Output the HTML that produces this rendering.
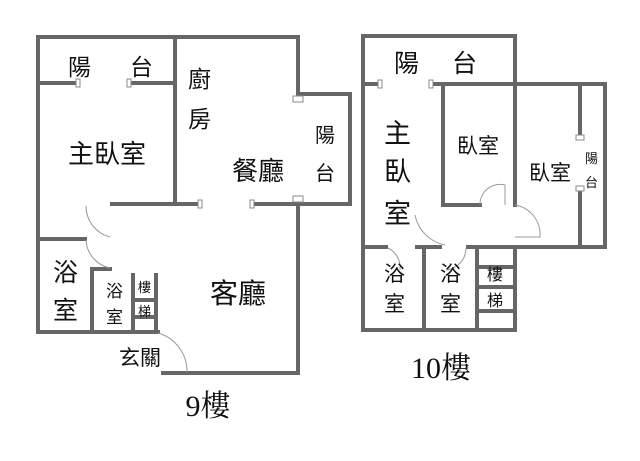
<!DOCTYPE html>
<html><head><meta charset="utf-8"><style>
html,body{margin:0;padding:0;background:#fff;width:640px;height:461px;overflow:hidden}
svg{display:block}
text{font-family:"Liberation Sans","Noto Sans CJK TC",sans-serif;fill:#111}
.s{font-family:"Liberation Serif","Noto Serif CJK SC",serif}
</style></head><body>
<svg width="640" height="461" viewBox="0 0 640 461">
<g stroke="#666" stroke-width="4" fill="none" stroke-linecap="square">
<path d="M38 37 H298 V94 H350 V204 H253"/>
<path d="M38 37 V332 H90"/>
<path d="M298 205 V373 H163"/>
<path d="M38 83 H78 M130 83 H175 M175 37 V203"/>
<path d="M112 204 H198"/>
<path d="M38 239 H85"/>
<path d="M92 332 V269 H110"/>
<path d="M90 332 H158"/>
<path d="M133 275 V332 M156 275 V332 M133 300 H156 M133 317 H156"/>
<path d="M363 36 H515 V84 M363 36 V330 H515 V247"/>
<path d="M363 84 H380 M431 84 H605 V247 H515"/>
<path d="M580 84 V135 M580 190 V247"/>
<path d="M443 84 V205 H480 M515 84 V205"/>
<path d="M363 247 H386 M417 247 H440 M468 247 H518"/>
<path d="M424 247 V330 M477 247 V330 M477 267 H515 M477 287 H515 M477 311 H515"/>
</g>
<g stroke="#888" stroke-width="1" fill="#fff">
<rect x="76" y="79" width="4" height="8"/><rect x="127" y="79" width="4" height="8"/>
<rect x="293" y="96" width="10" height="6"/><rect x="293" y="196" width="10" height="6"/>
<rect x="198" y="200" width="4" height="8"/><rect x="250" y="200" width="4" height="8"/>
<rect x="378" y="80" width="4" height="8"/><rect x="429" y="80" width="4" height="8"/>
<rect x="576" y="135" width="8" height="5"/><rect x="576" y="186" width="8" height="5"/>
</g>
<g stroke="#999" stroke-width="1" fill="none">
<path d="M86 206 A32 32 0 0 0 110 237"/>
<path d="M86 240 A30 30 0 0 0 110 268"/>
<path d="M158 333 A40 40 0 0 1 187 372"/>
<path d="M415 215 A38 38 0 0 0 445 245"/>
<path d="M480 205 A20 20 0 0 1 505 185 V205"/>
<path d="M515 205 A30 30 0 0 1 540 237 H515"/>
<path d="M388 248 A22 22 0 0 1 400 270"/>
<path d="M466 248 A22 22 0 0 1 446 270"/>
</g>
<g font-size="22">
<text x="68" y="75" font-size="23">陽</text><text x="130" y="75" font-size="23">台</text>
<text x="188" y="87" font-size="23">廚</text><text x="188" y="127" font-size="23">房</text>
<text x="315" y="142" font-size="20">陽</text><text x="315" y="180" font-size="20">台</text>
<text x="107" y="163" font-size="26" text-anchor="middle">主臥室</text>
<text x="258" y="180" font-size="26" text-anchor="middle">餐廳</text>
<text x="53" y="281" font-size="25">浴</text><text x="53" y="319" font-size="25">室</text>
<text x="106" y="297" font-size="17">浴</text><text x="106" y="323" font-size="17">室</text>
<text x="138" y="292" font-size="13">樓</text><text x="138" y="316" font-size="13">梯</text>
<text x="238" y="303" font-size="28" text-anchor="middle">客廳</text>
<text x="140" y="365" font-size="21" text-anchor="middle">玄關</text>
<text x="208" y="416" font-size="30" text-anchor="middle" class="s">9樓</text>
<text x="394" y="72" font-size="25">陽</text><text x="452" y="72" font-size="25">台</text>
<text x="384" y="143" font-size="27">主</text><text x="384" y="181" font-size="27">臥</text><text x="384" y="223" font-size="27">室</text>
<text x="478" y="153" font-size="21" text-anchor="middle">臥室</text>
<text x="550" y="180" font-size="21" text-anchor="middle">臥室</text>
<text x="585" y="163" font-size="13">陽</text><text x="585" y="187" font-size="13">台</text>
<text x="384" y="281" font-size="21">浴</text><text x="384" y="311" font-size="21">室</text>
<text x="440" y="281" font-size="21">浴</text><text x="440" y="311" font-size="21">室</text>
<text x="487" y="280" font-size="16">樓</text><text x="487" y="306" font-size="16">梯</text>
<text x="441" y="378" font-size="30" text-anchor="middle" class="s">10樓</text>
</g>
</svg>
</body></html>
